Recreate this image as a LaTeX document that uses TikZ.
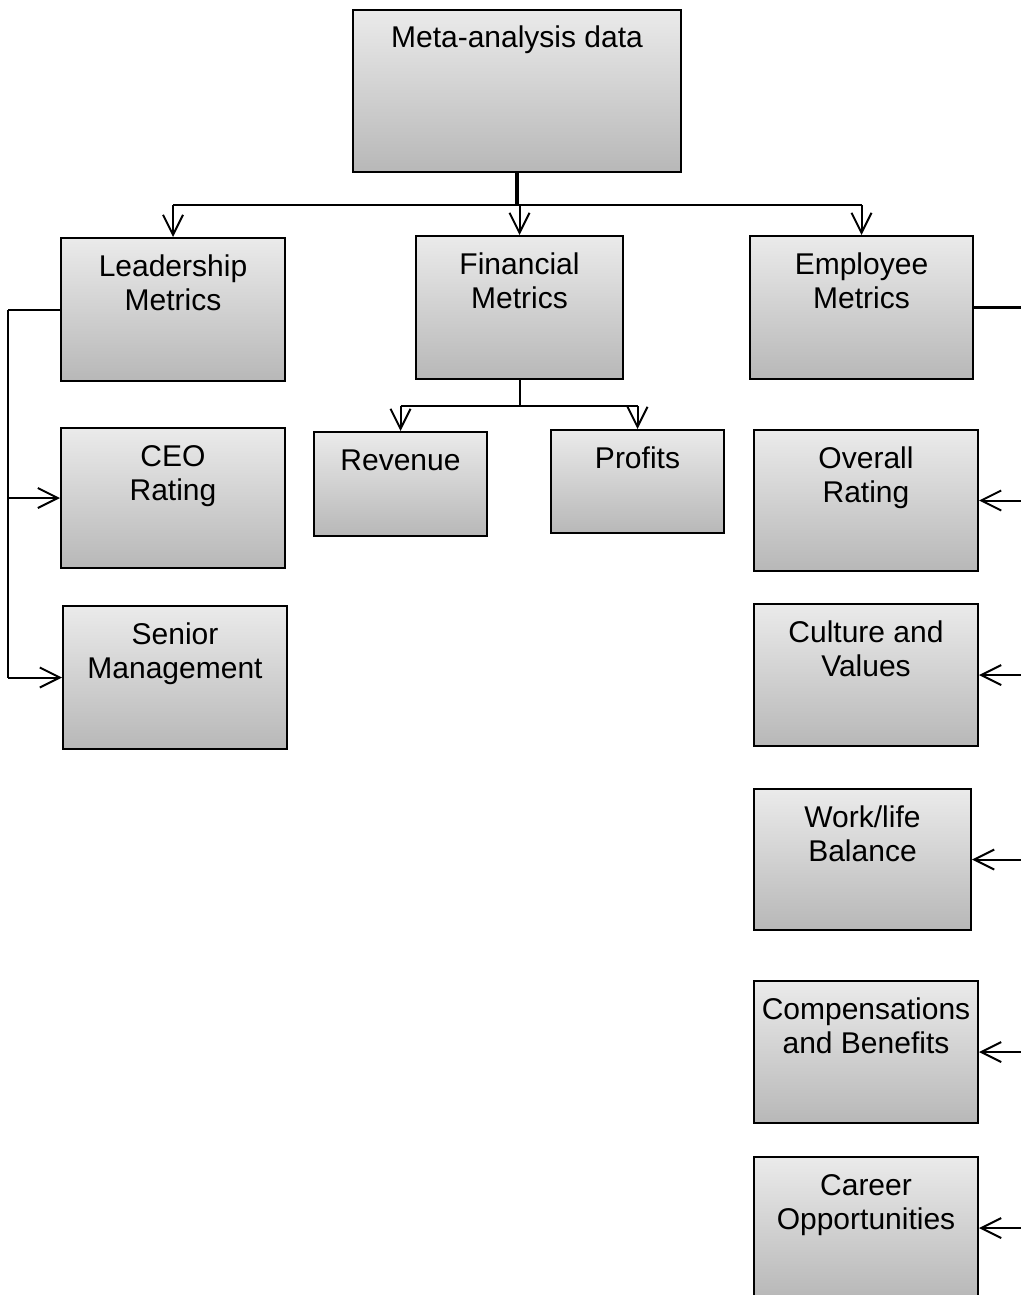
\documentclass[tikz,border=0pt]{standalone}
\usepackage{fontspec}
\setmainfont{Liberation Sans}
\usepackage{tikz}
\usetikzlibrary{arrows.meta}

\newlength{\pxu}
\setlength{\pxu}{0.5pt}
% box text: width, height (px), text
\newcommand{\cell}[3]{\parbox[c][#2\pxu][t]{#1\pxu}{\centering\rule{0pt}{19pt}#3}}

\begin{document}
\begin{tikzpicture}[
            x = 0.5pt, y = -0.5pt,
            every node/.style = {
                draw,
                rectangle,
                line width = 1pt,
                inner sep = 0pt,
                anchor = north west,
                top color = black!8,
                bottom color = black!28,
                font = \fontsize{15}{17}\selectfont
            },
            link/.style = {line width = 1pt},
            trunk/.style = {line width = 1.7pt},
            arr/.style = {link, -{Straight Barb[length=10pt, width=10pt]}}
        ]
            \useasboundingbox (0,0) rectangle (1021,1295);
            \clip (0,0) rectangle (1021,1295);

            % top
            \node (meta) at (352,9) {\cell{328}{162}{Meta-analysis data}};

            % metric groups
            \node (lead) at (60,237) {\cell{224}{143}{Leadership\\Metrics}};
            \node (fin) at (415,235) {\cell{207}{143}{Financial\\Metrics}};
            \node (emp) at (749,235) {\cell{223}{143}{Employee\\Metrics}};

            % leadership
            \node (ceo) at (60,427) {\cell{224}{140}{CEO\\Rating}};
            \node (sen) at (62,605) {\cell{224}{143}{Senior\\Management}};

            % financial
            \node (rev) at (313,431) {\cell{173}{104}{Revenue}};
            \node (prof) at (550,429) {\cell{173}{103}{Profits}};

            % employee
            \node (over) at (753,429) {\cell{224}{141}{Overall\\Rating}};
            \node (cult) at (753,603) {\cell{224}{142}{Culture and\\Values}};
            \node (work) at (753,788) {\cell{217}{141}{Work/life\\Balance}};
            \node (comp) at (753,980) {\cell{224}{142}{Compensations\\and Benefits}};
            \node (car) at (753,1156) {\cell{224}{142}{Career\\Opportunities}};

            % connectors
            \draw[trunk] (meta.south) -- ++(0,32) coordinate (top);
            \draw[link] (top -| lead.north) -- (top -| emp.north);
            \foreach \n in {lead, fin, emp}
                \draw[arr] (top -| \n.north) -- (\n.north);

            \draw[link] (fin.south) -- ++(0,26) coordinate (fj);
            \draw[link] (fj -| rev.north) -- (fj -| prof.north);
            \foreach \n in {rev, prof}
                \draw[arr] (fj -| \n.north) -- (\n.north);

            \draw[link] (lead.west) -- ++(-52,0) coordinate (lj);
            \draw[link] (lj) -- (lj |- sen.west);
            \foreach \n in {ceo, sen}
                \draw[arr] (lj |- \n.west) -- (\n.west);

            \draw[trunk] (emp.east) -- ++(60,0) coordinate (ej);
            \draw[link] (ej) -- (ej |- car.east);
            \foreach \n in {over, cult, work, comp, car}
                \draw[arr] (ej |- \n.east) -- (\n.east);
        \end{tikzpicture}
\end{document}
